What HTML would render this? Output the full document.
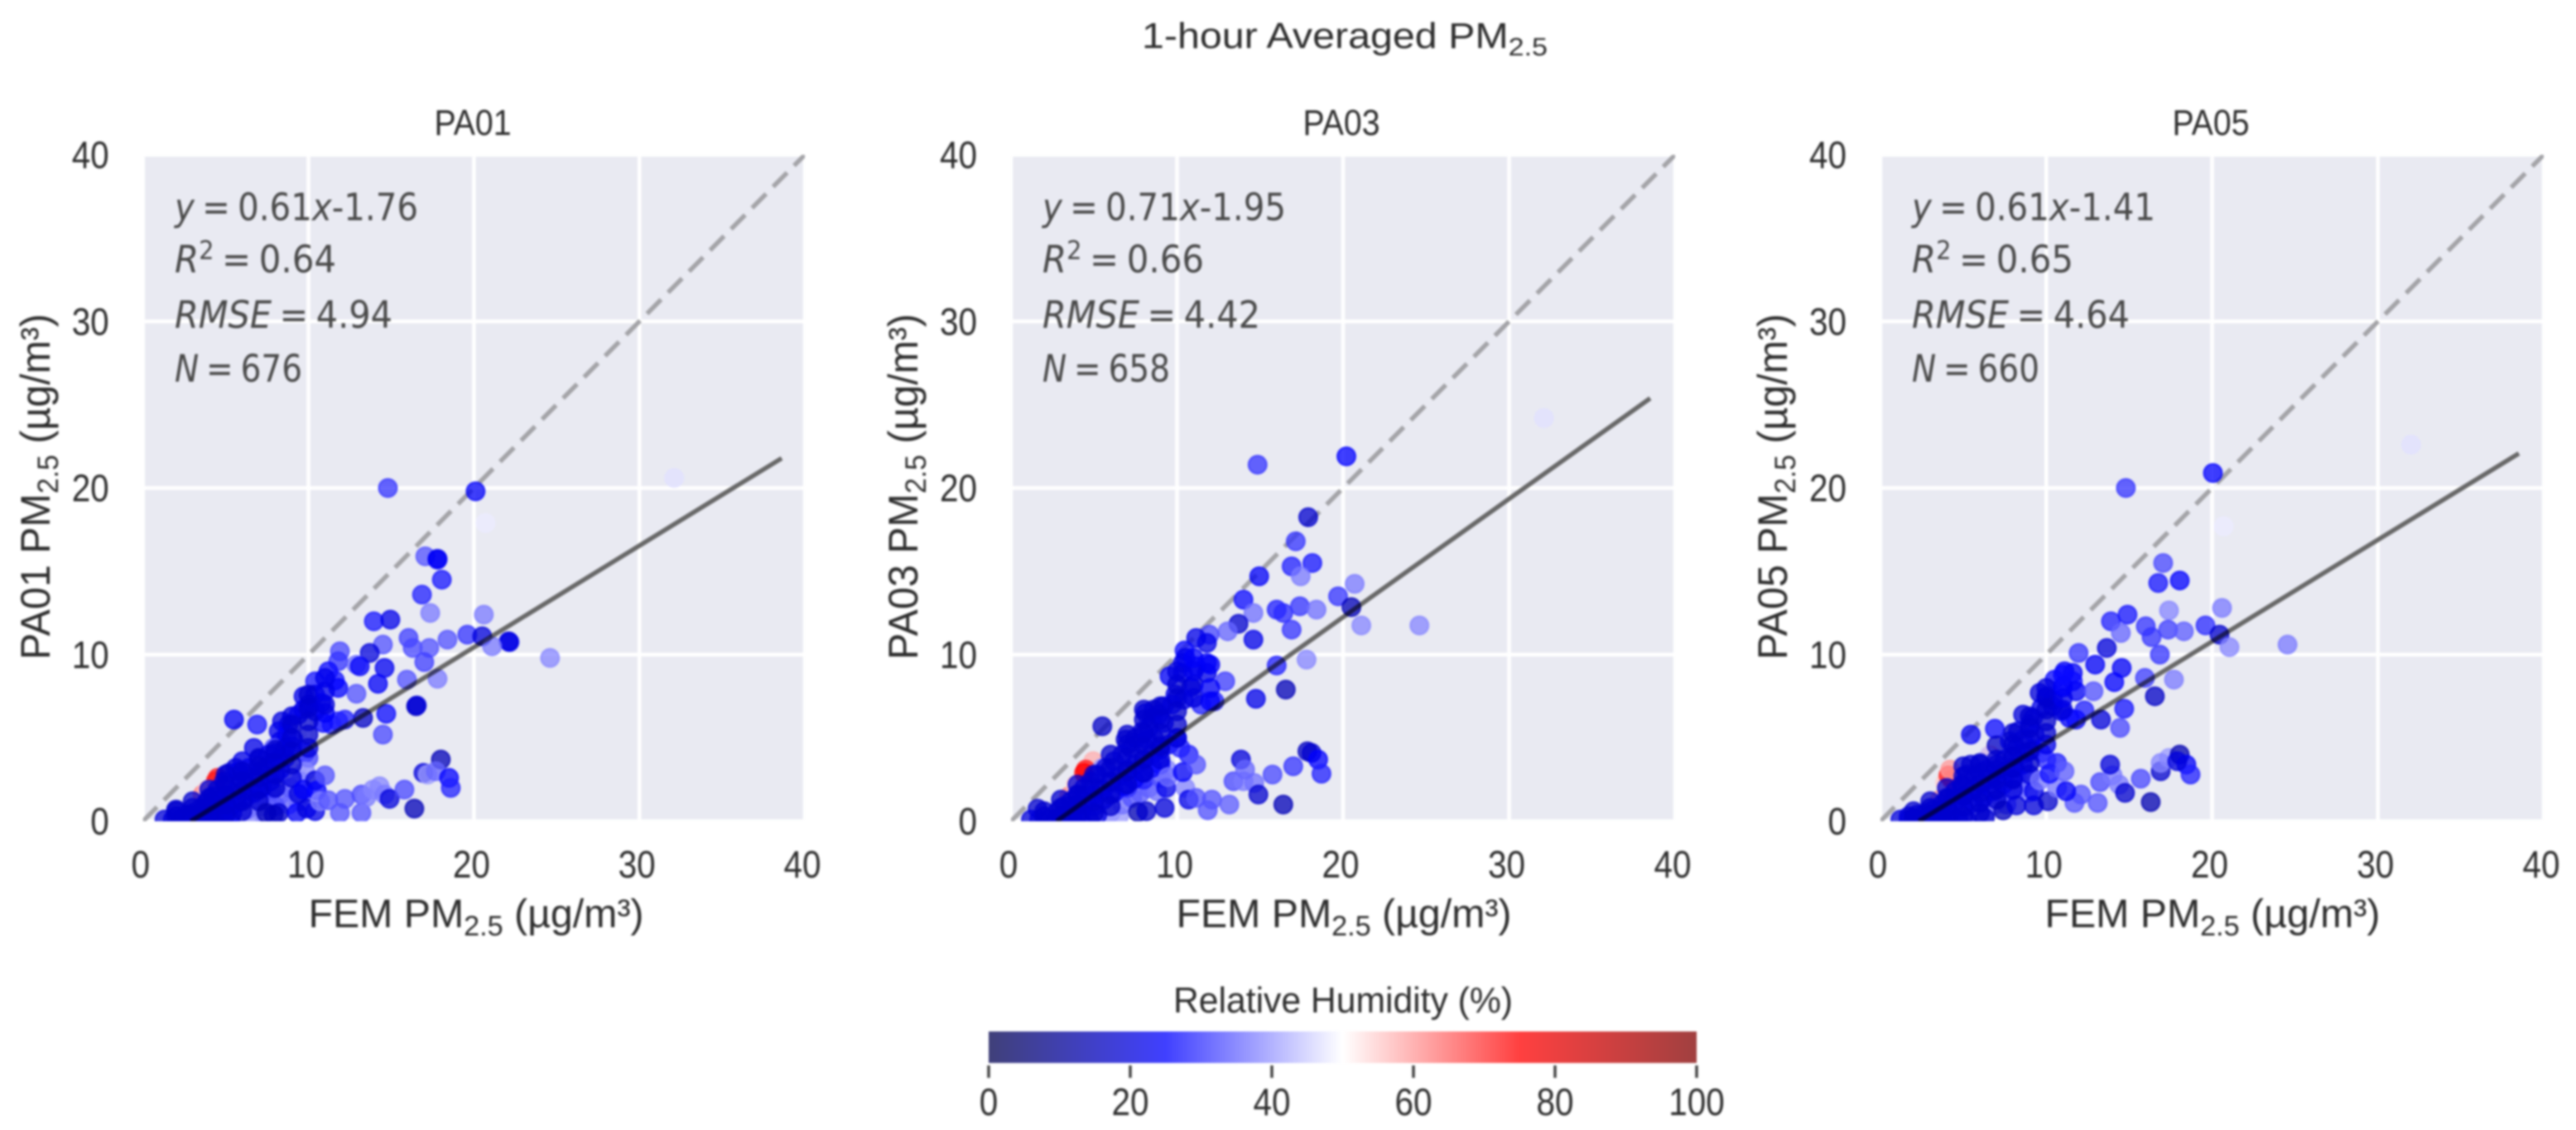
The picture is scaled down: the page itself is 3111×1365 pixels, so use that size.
<!DOCTYPE html>
<html lang="en">
<head>
<meta charset="utf-8">
<title>1-hour Averaged PM2.5</title>
<style>
html,body{margin:0;padding:0;background:#fff;width:3111px;height:1365px;overflow:hidden}
svg{display:block;filter:blur(1.3px)}
text{font-family:"Liberation Sans",sans-serif;fill:#2e2e2e}
.ann{font-family:"DejaVu Sans","Liberation Sans",sans-serif;fill:#4a4a4a;font-size:45px;word-spacing:-4px}
.ann tspan.i{font-style:italic}
</style>
</head>
<body>
<svg id="chart" xmlns="http://www.w3.org/2000/svg" width="3111" height="1365" viewBox="0 0 3111 1365">
  <defs>
    <linearGradient id="rhGradient" x1="0" x2="1" y1="0" y2="0">
      <stop offset="0" stop-color="#000" stop-opacity="0"/>
    </linearGradient>
    <clipPath id="clip-0"><rect x="172.7" y="187" width="799.3" height="805"/></clipPath>
    <clipPath id="clip-1"><rect x="1221" y="187" width="802" height="805"/></clipPath>
    <clipPath id="clip-2"><rect x="2271" y="187" width="801" height="805"/></clipPath>
  </defs>

  <text x="1624" y="58" text-anchor="middle" font-size="44" textLength="490" lengthAdjust="spacingAndGlyphs">1-hour Averaged PM<tspan font-size="31" dy="9">2.5</tspan></text>

  <g id="marks"></g>

  <!-- PA01 text -->
  <text x="571" y="163" text-anchor="middle" font-size="44" textLength="93" lengthAdjust="spacingAndGlyphs">PA01</text>
  <text class="ann" x="211" y="266" textLength="294" lengthAdjust="spacingAndGlyphs"><tspan class="i">y</tspan> = 0.61<tspan class="i">x</tspan>-1.76</text>
  <text class="ann" x="211" y="329" textLength="195" lengthAdjust="spacingAndGlyphs"><tspan class="i">R</tspan><tspan font-size="31" dy="-16">2</tspan><tspan dy="16"> = 0.64</tspan></text>
  <text class="ann" x="211" y="396" textLength="263" lengthAdjust="spacingAndGlyphs"><tspan class="i">RMSE</tspan> = 4.94</text>
  <text class="ann" x="211" y="461" textLength="154" lengthAdjust="spacingAndGlyphs"><tspan class="i">N</tspan> = 676</text>
  <text x="575" y="1120" text-anchor="middle" font-size="48" textLength="405" lengthAdjust="spacingAndGlyphs">FEM PM<tspan font-size="34" dy="10">2.5</tspan><tspan dy="-10"> (µg/m³)</tspan></text>
  <text transform="translate(60 588) rotate(-90)" text-anchor="middle" font-size="50" textLength="418" lengthAdjust="spacingAndGlyphs">PA01 PM<tspan font-size="35" dy="10">2.5</tspan><tspan dy="-10"> (µg/m³)</tspan></text>

  <!-- PA03 text -->
  <text x="1620" y="163" text-anchor="middle" font-size="44" textLength="93" lengthAdjust="spacingAndGlyphs">PA03</text>
  <text class="ann" x="1259" y="266" textLength="294" lengthAdjust="spacingAndGlyphs"><tspan class="i">y</tspan> = 0.71<tspan class="i">x</tspan>-1.95</text>
  <text class="ann" x="1259" y="329" textLength="195" lengthAdjust="spacingAndGlyphs"><tspan class="i">R</tspan><tspan font-size="31" dy="-16">2</tspan><tspan dy="16"> = 0.66</tspan></text>
  <text class="ann" x="1259" y="396" textLength="263" lengthAdjust="spacingAndGlyphs"><tspan class="i">RMSE</tspan> = 4.42</text>
  <text class="ann" x="1259" y="461" textLength="154" lengthAdjust="spacingAndGlyphs"><tspan class="i">N</tspan> = 658</text>
  <text x="1623" y="1120" text-anchor="middle" font-size="48" textLength="405" lengthAdjust="spacingAndGlyphs">FEM PM<tspan font-size="34" dy="10">2.5</tspan><tspan dy="-10"> (µg/m³)</tspan></text>
  <text transform="translate(1108 588) rotate(-90)" text-anchor="middle" font-size="50" textLength="418" lengthAdjust="spacingAndGlyphs">PA03 PM<tspan font-size="35" dy="10">2.5</tspan><tspan dy="-10"> (µg/m³)</tspan></text>

  <!-- PA05 text -->
  <text x="2670" y="163" text-anchor="middle" font-size="44" textLength="93" lengthAdjust="spacingAndGlyphs">PA05</text>
  <text class="ann" x="2309" y="266" textLength="294" lengthAdjust="spacingAndGlyphs"><tspan class="i">y</tspan> = 0.61<tspan class="i">x</tspan>-1.41</text>
  <text class="ann" x="2309" y="329" textLength="195" lengthAdjust="spacingAndGlyphs"><tspan class="i">R</tspan><tspan font-size="31" dy="-16">2</tspan><tspan dy="16"> = 0.65</tspan></text>
  <text class="ann" x="2309" y="396" textLength="263" lengthAdjust="spacingAndGlyphs"><tspan class="i">RMSE</tspan> = 4.64</text>
  <text class="ann" x="2309" y="461" textLength="154" lengthAdjust="spacingAndGlyphs"><tspan class="i">N</tspan> = 660</text>
  <text x="2672" y="1120" text-anchor="middle" font-size="48" textLength="405" lengthAdjust="spacingAndGlyphs">FEM PM<tspan font-size="34" dy="10">2.5</tspan><tspan dy="-10"> (µg/m³)</tspan></text>
  <text transform="translate(2158 588) rotate(-90)" text-anchor="middle" font-size="50" textLength="418" lengthAdjust="spacingAndGlyphs">PA05 PM<tspan font-size="35" dy="10">2.5</tspan><tspan dy="-10"> (µg/m³)</tspan></text>

  <!-- colorbar text -->
  <text x="1622" y="1223" text-anchor="middle" font-size="44" textLength="410" lengthAdjust="spacingAndGlyphs">Relative Humidity (%)</text>
  <g id="colorbar"></g>
</svg>

<script>
// ---- chart data ----
const xTicks = [0, 10, 20, 30, 40];
const yTicks = [0, 10, 20, 30, 40];
const cbarTicks = [0, 20, 40, 60, 80, 100];
const fitSlope = [0.61, 0.71, 0.61];
const fitIntercept = [-1.76, -1.95, -1.41];
const fitEndX = [38.6, 38.5, 38.5];
const identityEnds = [0, 40];

// each point: [FEM PM2.5, sensor PM2.5, relative humidity %]
const pa01Points = [
[3.6,1.6,62],[4.4,2.4,75],[4.5,2.6,72],[3.9,1.9,56],
[32.1,20.6,47],[20.7,17.9,48],[14.8,20,30],[20.1,19.8,24],
[17.06,15.9,33],[17.8,15.75,22],[17.8,15.7,24],[18.06,14.5,27],[16.86,13.6,28],[17.36,12.5,37],[20.6,12.4,37],
[13.95,12,27],[14.95,12.1,22],[19.6,11.2,30],[20.5,11.1,20],[22.1,10.8,18],[22.15,10.75,22],[21.1,10.5,37],[24.6,9.8,38],
[18.4,10.9,33],[16.05,11,31],[16.3,10.4,32],[17.3,10.4,33],[14.5,10.6,33],[11.9,10.2,32],[13.7,10.1,20],[11.8,9.6,30],
[12.9,9.4,36],[13.1,9.3,24],[17,9.55,31],[14.6,9.2,23],[11.2,9,26],[15.95,8.5,33],[17.8,8.55,37],[14.2,8.25,24],
[10.4,8.4,27],[11.6,8.45,27],[11.8,8,25],[12.9,7.65,33],[9.7,7.5,22],[10.4,7.6,22],[10,7,20],[9.7,6.7,22],
[16.5,6.9,15],[16.55,6.95,20],[14.7,6.45,26],[13.3,6.2,17],[14.5,5.2,32],[5.5,6.1,24],[6.9,5.8,27],
[12.2,6.1,28],[11.8,6,28],[11.4,5.8,28],[10.9,5.9,26],[11,6.5,24],[10.4,6.6,22],[10.8,7.1,24],
[8.4,6,21],[8.8,5.8,20],[9,6.3,20],[9.4,6.4,22],[8.2,5.4,22],[8.7,5.2,24],[9.1,4.9,28],[8.3,4.8,22],[7.9,4.4,34],
[6.7,4.4,22],[6,3.6,22],[5.6,3.2,20],[5.2,2.9,20],[5.8,3,22],[6.4,3.2,22],[7,3.7,22],[7.6,4,22],[8,4.1,22],[8.6,4.4,20],[9,4.5,24],[9.8,4.1,28],[10,3.8,32],
[7.3,.4,38],[6.6,.3,38],[7.5,1.2,35],[8.3,1.6,35],[8.8,1,35],[9.4,1.2,36],[7,1.4,32],[7.8,1.9,30],[8.9,2,34],[9.6,1.6,36],[9.8,3,38],[9.5,2.4,38],[6.3,.7,36],[7.2,.9,36],[8,.9,33],
[4.9,2.4,20],[4.5,1.9,20],[4.2,1.5,20],[3.8,1.1,20],[3.5,.8,20],[3,.5,20],[2,.7,18],[2.6,.4,20],
[4.6,1.1,21],[5,1.4,21],[5.4,1.7,21],[5.8,2,21],[6.2,2.3,21],[6.6,2.6,21],[7,2.9,21],[7.4,3.2,21],[7.8,3.5,21],[8.2,3.7,21],[8.6,3.8,22],
[5.2,.8,24],[5.7,1.1,24],[6.2,1.4,24],[6.7,1.7,24],[7.2,2,24],[7.7,2.4,24],[8,2.8,25],[8.3,3.1,26],
[1.3,.1,20],[1.8,.1,20],[2.3,.1,20],[2.8,.1,20],[3.3,.1,20],[3.8,.1,20],[4.3,.1,21],[4.8,.1,21],[5.3,.1,21],[3.6,.4,20],[4.2,.5,20],[4.8,.6,21],[5.4,.5,23],
[2,.3,18],[2,.6,18],[3,.3,18],[3,.8,18],[3,1.2,18],[4,.4,18],[4,.9,18],[4,1.4,18],[4,1.9,18],[5,.4,18],[5,1,18],[5,1.6,18],[5,2.2,18],[5,2.8,18],
[6,.6,18],[6,1.2,18],[6,1.8,18],[6,2.4,18],[6,3,18],[7,1.2,18],[7,1.9,18],[7,2.6,18],[7,3.3,18],[7,3.8,18],[8,2,18],[8,2.8,18],[8,3.5,18],[8,4.3,18],
[9,2.6,20],[9,3.4,18],[9,4.2,18],[9,5,18],[9,5.8,18],[10,4.4,20],[10,5.2,18],[10,6,18],[10,6.8,18],[10,7.6,18],[11,7,20],[11,7.8,22],[11,8.6,22],
[8.2,.5,18],[7.45,.5,15],[7.9,.4,16],[9.3,.5,24],[9.9,.76,20],[10.4,.6,22],[9.4,1.64,20],[9.7,1.9,24],[10.4,2.45,20],[10.5,1.84,25],[11,2.75,33],[10.7,1.2,38],[11.2,1.26,33],
[12.2,1.34,33],[11.9,.5,33],[13.2,.5,33],[13.2,1.6,32],[13.5,1.44,37],[13.9,1.9,38],[14.3,2.1,38],[14.6,1.6,37],[14.9,1.34,20],[15.8,1.9,32],[16.4,.76,15],
[18,3.7,15],[16.95,2.9,20],[17.2,2.8,40],[17.7,3,35],[18.5,2.6,25],[18.6,2,28]
];

const pa03Points = [
[3.5,1.5,62],[3.9,2.2,55],[4.95,3.6,58],[4.5,3.1,72],[4.4,2.9,75],
[32.1,24.2,47],[14.85,21.4,30],[20.2,21.9,25],[17.9,18.25,18],[17.15,16.8,30],[16.9,15.3,28],[18.15,15.5,27],[17.45,14.7,37],
[14.95,14.7,24],[20.7,14.25,37],[19.7,13.5,30],[14,13.3,26],[20.5,12.85,15],[16,12.7,28],[16.4,12.5,29],[17.4,12.9,30],[18.4,12.7,36],
[14.6,12.5,36],[13.7,11.85,18],[21.1,11.75,38],[24.6,11.75,38],[16.9,11.5,30],[13.05,11.4,35],[14.6,10.9,22],[11.95,11.2,32],[11.15,11,22],
[11.8,10.7,22],[10.45,10.25,26],[16,9.35,28],[17.8,9.7,38],[11.8,9.5,24],[11.15,9.3,26],[11.8,8.9,22],[10.35,9.5,22],[9.55,8.7,24],[10.35,8.9,22],
[12.9,8.4,31],[16.55,7.9,15],[14.75,7.35,22],[10.85,8.05,18],[9.9,7.6,22],[12.25,7.2,28],[11.45,7,28],[10.4,7.3,22],[9.2,6.9,22],[9.7,7,24],
[5.5,5.7,17],[8.6,6.7,18],[8.1,6.5,22],[8.5,6.2,18],[8.9,6.4,20],[9.2,5.9,24],[8.3,5.6,20],[8.6,5,22],[7.5,5,18],[6.9,4.9,18],[7.9,5.4,20],
[6,.5,38],[6.5,.3,40],[6.7,1,36],[7.3,1.4,33],[7.8,1.7,34],[8.3,2,34],[8.8,1.8,36],[7,2,30],[8,2.5,28],[9,2.6,33],[9.4,3.1,38],
[5.5,3.2,40],[6.7,4,22],[6.2,3.6,21],[5.7,3.2,20],[5.2,2.8,20],[4.8,2.4,20],[4.4,2,20],[4,1.6,20],[3.6,1.2,20],[3.2,.9,20],[2.8,.6,20],[7.2,4.4,20],[7.7,4.7,20],[8.2,4.9,21],
[4,.9,21],[4.5,1.2,21],[5,1.6,21],[5.5,1.9,21],[6,2.3,21],[6.5,2.7,21],[7,3.1,21],[7.5,3.4,21],[8,3.7,21],[8.5,4,21],[9,4.3,21],[9.5,4.6,22],[10,5,24],[10.2,4.4,28],
[5,.9,24],[5.6,1.3,24],[6.2,1.7,24],[6.8,2.1,24],[7.4,2.5,24],[7.9,2.9,25],[8.5,3.2,26],[9,3.4,26],
[1.6,.75,18],[1.2,.1,20],[1.7,.1,20],[2.2,.1,20],[2.7,.1,20],[3.2,.1,20],[3.7,.1,21],[4.2,.1,21],[4.7,.1,21],[3.6,.5,20],[4.2,.5,21],[5.2,.4,21],
[2,.3,18],[2,.6,18],[3,.3,18],[3,.8,18],[3,1.3,18],[4,.4,18],[4,1,18],[4,1.6,18],[4,2.2,18],[5,.5,18],[5,1.2,18],[5,2,18],[5,2.8,18],
[6,.9,18],[6,1.6,18],[6,2.4,18],[6,3.2,18],[6,4,18],[7,2.2,18],[7,3,18],[7,3.8,18],[7,4.6,18],[7,5.2,18],[8,2.9,18],[8,3.7,18],[8,4.5,18],[8,5.3,18],[8,6.1,18],[8,6.7,18],
[9,3.7,20],[9,4.5,18],[9,5.3,18],[9,6.1,18],[9,6.9,18],[10,5,20],[10,5.8,18],[10,6.6,18],[10,7.4,18],[10,8.2,18],[10,9,20],[10.5,9.8,22],[11,7.4,20],[11,8.2,20],[11,9,22],[11,9.8,24],[12,7.2,24],[12,8,24],[12,9.4,24],
[7.65,.55,15],[8.15,.6,18],[9.25,.8,20],[9.35,2,22],[9.45,2.65,36],[10.5,2,38],[10.35,2.95,24],[10.7,4,28],[11.15,3.4,33],[10.7,1.3,22],
[11.15,1.4,33],[12.1,1.3,33],[11.85,.66,33],[13.15,1,34],[13.4,2.4,32],[14,2.4,37],[14.65,2.3,36],[14.9,1.6,18],[13.85,3.7,20],[14.1,3.1,35],
[15.75,2.8,32],[16.4,1,15],[17,3.3,30],[17.85,4.2,16],[18.1,4.1,18],[18.5,3.7,25],[18.7,2.85,28]
];

const pa05Points = [
[3.6,1.3,60],[3.9,2.3,55],[4.1,2.75,72],[4.3,2.5,70],[4.2,3.1,60],[6.6,3.95,62],[6.5,3.9,45],
[32,22.6,47],[20.7,17.7,48],[14.8,20,30],[20.05,20.9,25],[17.05,15.5,32],[16.75,14.3,27],[18.05,14.45,25],[17.4,12.65,38],[20.6,12.8,37],
[13.9,12,28],[14.9,12.4,27],[16,11.7,30],[16.35,11.05,30],[17.35,11.5,31],[18.3,11.4,34],[19.6,11.75,29],[20.45,11.2,18],[21.05,10.45,38],[24.55,10.6,37],
[14.5,11.3,35],[11.95,10.1,30],[13.65,10.4,20],[16.85,10,30],[12.95,9.4,24],[14.55,9.2,24],[15.95,8.6,31],[17.7,8.5,37],[14.1,8.35,25],
[11.1,9,24],[11.6,8.9,24],[10.5,8.5,26],[11.6,8.4,26],[11,8,28],[11.8,7.8,24],[12.85,7.8,33],[16.55,7.5,17],[14.7,6.75,27],[13.3,6.1,20],[14.45,5.6,32],[12.3,6.65,28],
[9.6,7.7,20],[10,7.5,20],[10.4,7.3,20],[10.4,6.9,20],[10.9,6.6,20],[11.4,6.2,24],[11.8,6.1,26],[9.7,6.8,22],[9.2,6.2,22],[8.6,6.4,20],[9,5.8,20],
[5.45,5.2,23],[6.9,5.55,26],[7,4.55,17],[8.3,5.4,20],[8.6,4.9,22],[7.8,4.8,20],[8.2,4.4,21],[9.3,5.2,26],
[6.4,.6,38],[6.9,1,38],[7.3,1.4,36],[7.9,1.8,35],[8.4,2,36],[8.9,1.7,37],[7.6,1,34],[8.2,2.6,32],[9,2.5,36],
[5.45,3.4,19],[6,3.4,19],[5.2,2.8,19],[5.7,2.7,19],[6.4,3.1,20],[7,3.4,20],[7.5,3.7,20],[8,3.9,20],[8.7,4.1,21],[9.2,4.3,22],[9.7,4.1,28],[10,3.7,30],
[4.9,2.2,19],[4.5,1.8,20],[4.1,1.4,20],[3.7,1,20],[3.2,.7,20],[2.7,.5,20],[2.2,.4,20],[1.7,.3,20],
[4.6,1.3,20],[5.1,1.6,20],[5.6,1.9,20],[6.1,2.2,20],[6.6,2.5,20],[7.1,2.8,20],[7.6,3,21],[8.1,3.2,22],[8.6,3.4,24],
[5,.8,24],[5.6,1.1,24],[6.2,1.4,24],[6.8,1.8,24],[7.4,2.2,26],[8,2.6,26],
[1.2,.1,20],[1.7,.1,20],[2.2,.1,20],[2.7,.1,20],[3.2,.1,20],[3.7,.1,20],[4.2,.1,21],[4.7,.1,21],[5.2,.1,21],[3.6,.5,20],[4.2,.5,20],[6.3,.2,18],
[2,.2,18],[2,.6,18],[3,.3,18],[3,.8,18],[3,1.2,18],[4,.3,18],[4,.8,18],[4,1.4,18],[4,2,18],[5,.3,18],[5,.9,18],[5,1.5,18],[5,2.1,18],[5,2.7,18],[5,3.3,18],
[6,.5,18],[6,1.1,18],[6,1.7,18],[6,2.3,18],[6,2.9,18],[6,3.5,18],[7,1.3,18],[7,1.9,18],[7,2.5,18],[7,3.1,18],[7,3.7,18],[8,1.9,20],[8,2.5,18],[8,3.2,18],[8,3.9,18],[8,4.6,18],[8,5.3,18],
[9,2.8,20],[9,3.5,18],[9,4.2,18],[9,4.9,18],[9,5.6,18],[9,6.3,18],[10,4.6,22],[10,5.3,18],[10,6,18],[10,6.7,18],[10,7.4,18],[10,8,20],[11,6.7,20],[11,7.4,22],[11,8.1,24],[11,8.8,26],
[7.4,.65,16],[8.2,.95,20],[9.25,.95,20],[9.25,1.8,22],[9.6,2.45,37],[10.1,1.2,18],[10.65,2,37],[10.2,2.85,26],[10.65,3.5,28],[11.1,3,34],
[11.7,1.1,33],[12.1,1.6,33],[11.2,1.8,24],[13.1,1.1,33],[13.25,2.35,32],[14,2.75,37],[14.4,2.2,37],[14.75,1.7,18],[13.85,3.4,20],[15.7,2.55,32],[16.3,1.15,14],
[16.9,3,18],[17.4,3.8,40],[16.9,3.5,38],[18.05,4,14],[18.45,3.4,24],[18.7,2.8,28],[17.9,3.6,20]
];

const panelPoints = [pa01Points, pa03Points, pa05Points];
const panelNames = ['pa01', 'pa03', 'pa05'];

// seismic colormap anchor values
const cmapValues = [0, 25, 50, 75, 100];
const cmapColors = [[0,0,76],[0,0,255],[255,255,255],[255,0,0],[128,0,0]];

// ---- layout ----
const SVGNS = 'http://www.w3.org/2000/svg';
const frames = [
  {left:172.7, right:972},
  {left:1221, right:2023},
  {left:2271, right:3072}
];
const plotTop = 187, plotBottom = 992, axisMax = 40;
const cbar = {left:1194, right:2049, top:1246, bottom:1284, tickEnd:1302, labelY:1347};
const markAlpha = 0.75;
const digitWidth = 22.5;

function svgEl(tag, attrs, parent){
  const el = document.createElementNS(SVGNS, tag);
  for (const k in attrs) el.setAttribute(k, attrs[k]);
  parent.appendChild(el);
  return el;
}
function rhColor(v){
  let i = 0;
  while (i < cmapValues.length - 2 && v > cmapValues[i+1]) i++;
  const t = (v - cmapValues[i]) / (cmapValues[i+1] - cmapValues[i]);
  const c = cmapColors[i].map((a, k) => Math.round(a + (cmapColors[i+1][k] - a) * t));
  return 'rgb(' + c.join(',') + ')';
}

const marks = document.getElementById('marks');

panelPoints.forEach(function(points, p){
  const f = frames[p];
  const sx = v => f.left + (f.right - f.left) * v / axisMax;
  const sy = v => plotBottom - (plotBottom - plotTop) * v / axisMax;
  const name = panelNames[p];

  const g = svgEl('g', {}, marks);
  
  

  const bg = svgEl('rect', {x:f.left, y:plotTop, width:f.right-f.left, height:plotBottom-plotTop, fill:'#e9eaf2'}, g);
  
  

  xTicks.forEach(function(t){
    const line = svgEl('line', {x1:sx(t), x2:sx(t), y1:plotTop, y2:plotBottom, stroke:'#fff', 'stroke-width':4.5}, g);
    
    
    const label = svgEl('text', {x:sx(t)-3, y:1060, 'text-anchor':'middle', 'font-size':46, textLength:String(t).length*digitWidth, lengthAdjust:'spacingAndGlyphs'}, g);
    label.textContent = t;
    
    
  });
  yTicks.forEach(function(t){
    const line = svgEl('line', {x1:f.left, x2:f.right, y1:sy(t), y2:sy(t), stroke:'#fff', 'stroke-width':4.5}, g);
    
    
    const label = svgEl('text', {x:f.left-41, y:sy(t)+16, 'text-anchor':'end', 'font-size':46, textLength:String(t).length*digitWidth, lengthAdjust:'spacingAndGlyphs'}, g);
    label.textContent = t;
    
    
  });

  const inner = svgEl('g', {'clip-path':'url(#clip-' + p + ')'}, g);

  const identity = svgEl('line', {x1:sx(identityEnds[0]), y1:sy(identityEnds[0]), x2:sx(identityEnds[1]), y2:sy(identityEnds[1]),
    stroke:'#a4a4a8', 'stroke-width':5.5, 'stroke-dasharray':'24 12'}, inner);
  
  

  points.forEach(function(pt){
    const c = rhColor(pt[2]);
    const dot = svgEl('circle', {cx:sx(pt[0]), cy:sy(pt[1]), r:11, fill:c, 'fill-opacity':markAlpha, stroke:c, 'stroke-opacity':markAlpha, 'stroke-width':2}, inner);
    
    
  });

  const fy = x => fitSlope[p] * x + fitIntercept[p];
  const startX = -fitIntercept[p] / fitSlope[p];
  const fit = svgEl('line', {x1:sx(startX), y1:sy(fy(startX)), x2:sx(fitEndX[p]), y2:sy(fy(fitEndX[p])), stroke:'#686868', 'stroke-width':5.5, style:'mix-blend-mode:multiply'}, inner);
  
  
});

// ---- colorbar ----
const grad = document.getElementById('rhGradient');
grad.innerHTML = '';
cmapValues.forEach(function(v){
  svgEl('stop', {offset:v/100, 'stop-color':rhColor(v), 'stop-opacity':markAlpha}, grad);
});
const cb = document.getElementById('colorbar');
const cbx = v => cbar.left + (cbar.right - cbar.left) * v / 100;
const cbRect = svgEl('rect', {x:cbar.left, y:cbar.top, width:cbar.right-cbar.left, height:cbar.bottom-cbar.top, fill:'url(#rhGradient)'}, cb);


cbarTicks.forEach(function(t){
  const tick = svgEl('line', {x1:cbx(t), x2:cbx(t), y1:cbar.bottom+3, y2:cbar.tickEnd, stroke:'#444', 'stroke-width':3.5}, cb);
  
  
  const label = svgEl('text', {x:cbx(t), y:cbar.labelY, 'text-anchor':'middle', 'font-size':46, textLength:String(t).length*digitWidth, lengthAdjust:'spacingAndGlyphs'}, cb);
  label.textContent = t;
  
  
});
</script>
</body>
</html>
